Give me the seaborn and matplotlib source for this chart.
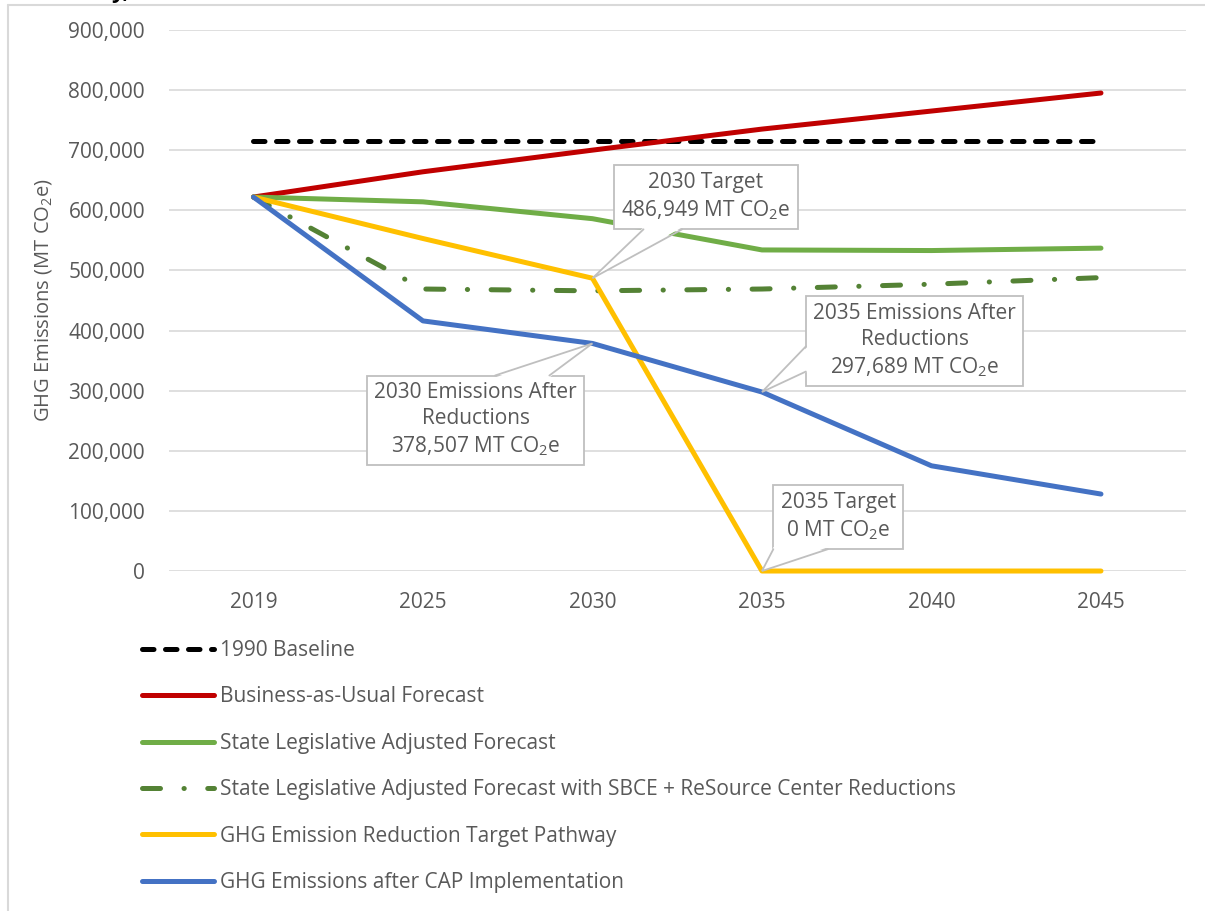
import matplotlib
matplotlib.use("Agg")
import matplotlib.pyplot as plt
import seaborn as sns
import pandas as pd
from matplotlib.lines import Line2D
from matplotlib.patches import Polygon
from matplotlib.transforms import IdentityTransform
from matplotlib.ticker import FuncFormatter

# ---- data ----
years = ["2019", "2025", "2030", "2035", "2040", "2045"]
baseline_1990 = [715000, 715000, 715000, 715000, 715000, 715000]
bau_forecast = [622000, 664000, 700000, 735000, 765000, 795000]
state_adjusted = [622000, 614000, 586000, 534000, 533000, 537000]
state_adjusted_sbce = [622000, 469000, 466000, 469000, 477000, 488000]
target_pathway = [622000, 553000, 486949, 0, 0, 0]
cap_implementation = [622000, 416000, 378507, 297689, 175000, 128000]

series_names = [
    "1990 Baseline",
    "Business-as-Usual Forecast",
    "State Legislative Adjusted Forecast",
    "State Legislative Adjusted Forecast with SBCE + ReSource Center Reductions",
    "GHG Emission Reduction Target Pathway",
    "GHG Emissions after CAP Implementation",
]
series_values = [baseline_1990, bau_forecast, state_adjusted, state_adjusted_sbce,
                 target_pathway, cap_implementation]
colors = ["#000000", "#C00000", "#70AD47", "#548235", "#FFC000", "#4472C4"]

callout_texts = [
    "2030 Target\n486,949 MT CO$_2$e",
    "2030 Emissions After\nReductions\n378,507 MT CO$_2$e",
    "2035 Emissions After\nReductions\n297,689 MT CO$_2$e",
    "2035 Target\n0 MT CO$_2$e",
]

# ---- styling ----
sns.set_theme(style="white")
plt.rcParams["font.family"] = ["Open Sans", "DejaVu Sans"]
plt.rcParams["mathtext.fontset"] = "custom"
plt.rcParams["mathtext.rm"] = "Open Sans"
plt.rcParams["mathtext.it"] = "Open Sans"
txt_color = "#595959"
grid_color = "#D9D9D9"
callout_edge = "#BFBFBF"
fs = 15

fig = plt.figure(figsize=(12.05, 9.11), dpi=100)
ax = fig.add_axes([0.140, 0.3732, 0.844, 0.5940])

lw = 3.6
styles = [
    dict(linestyle=(0, (2.3, 2.3))),
    dict(linestyle="-"),
    dict(linestyle="-"),
    dict(linestyle=(0, (3.6, 4.7, 0.05, 4.7))),
    dict(linestyle="-"),
    dict(linestyle="-"),
]

df_list = []
for name, vals in zip(series_names, series_values):
    df_list.append(pd.DataFrame({"Year": years, "Emissions": vals, "Series": name}))
df = pd.concat(df_list, ignore_index=True)

handles = []
for name, color, st in zip(series_names, colors, styles):
    sub = df[df["Series"] == name]
    sns.lineplot(data=sub, x="Year", y="Emissions", ax=ax, color=color, lw=lw,
                 sort=False, legend=False, zorder=3, **st)
    ln = ax.lines[-1]
    ln.set_dash_capstyle("round")
    ln.set_solid_capstyle("round")
    ln.set_solid_joinstyle("round")
    ln.set_clip_on(False)
    h = Line2D([], [], color=color, lw=lw, dash_capstyle="round",
               solid_capstyle="round", **st)
    handles.append(h)

ax.set_xlim(-0.5, len(years) - 0.5)
ax.set_ylim(0, 900000)
ax.set_yticks(range(0, 900001, 100000))
ax.yaxis.set_major_formatter(FuncFormatter(lambda v, p: f"{int(v):,}"))
ax.grid(axis="y", color=grid_color, lw=1.2)
ax.grid(axis="x", visible=False)
for s in ax.spines.values():
    s.set_visible(False)
ax.tick_params(axis="both", length=0, labelsize=fs, colors=txt_color)
ax.tick_params(axis="y", pad=17)
ax.tick_params(axis="x", pad=15)
ax.set_xlabel("")
ax.set_ylabel("GHG Emissions (MT CO$_2$e)", fontsize=14.5, color=txt_color, labelpad=10)

# ---- callouts ----
box = dict(boxstyle="square,pad=0.35", fc="white", ec=callout_edge, lw=1.3)
callout_targets = [(2, target_pathway[2]), (2, cap_implementation[2]),
                   (3, cap_implementation[3]), (3, target_pathway[3])]
callout_pos = [(2.67, 622000), (1.31, 251000), (3.90, 383000), (3.45, 90000)]
# which box edge the pointer leaves from, and the span along that edge (fractions)
pointer_specs = [("bottom", 0.16, 0.37), ("top", 0.59, 0.84),
                 ("left", 0.56, 0.84), ("bottom", 0.0, 0.42)]
anns = []
for text, xy, pos in zip(callout_texts, callout_targets, callout_pos):
    a = ax.annotate(text, xy=xy, xytext=pos, ha="center", va="center",
                    fontsize=fs, color=txt_color, bbox=box,
                    zorder=5, linespacing=1.3)
    anns.append(a)

# ---- legend ----
leg = fig.legend(handles, series_names, loc="upper left",
                 bbox_to_anchor=(0.1023, 0.318), frameon=False, fontsize=fs,
                 handlelength=3.45, handletextpad=0.3, labelspacing=1.22,
                 labelcolor=txt_color)

# ---- callout pointers (built from the callout boxes and their targets) ----
fig.canvas.draw()
renderer = fig.canvas.get_renderer()
for a, (edge, f0, f1) in zip(anns, pointer_specs):
    bb = a.get_bbox_patch().get_window_extent(renderer)
    apex = ax.transData.transform(a.xy)
    ins = 2.0
    if edge == "bottom":
        p0 = (bb.x0 + f0 * bb.width, bb.y0); p1 = (bb.x0 + f1 * bb.width, bb.y0)
        q0 = (p0[0], p0[1] + ins); q1 = (p1[0], p1[1] + ins)
    elif edge == "top":
        p0 = (bb.x0 + f0 * bb.width, bb.y1); p1 = (bb.x0 + f1 * bb.width, bb.y1)
        q0 = (p0[0], p0[1] - ins); q1 = (p1[0], p1[1] - ins)
    else:  # left, fractions measured from the top
        p0 = (bb.x0, bb.y1 - f0 * bb.height); p1 = (bb.x0, bb.y1 - f1 * bb.height)
        q0 = (p0[0] + ins, p0[1]); q1 = (p1[0] + ins, p1[1])
    fig.add_artist(Polygon([q0, tuple(apex), q1], closed=True, fc="white", ec="none",
                           transform=IdentityTransform(), zorder=6))
    fig.add_artist(Line2D([p0[0], apex[0], p1[0]], [p0[1], apex[1], p1[1]],
                          color=callout_edge, lw=1.3, transform=IdentityTransform(),
                          zorder=7, solid_joinstyle="miter"))

# ---- chart border and clipped title fragment ----
fig.add_artist(Line2D([8 / 1205, 8 / 1205], [0, 1 - 5 / 911], transform=fig.transFigure,
                      color="#D9D9D9", lw=1.5))
fig.add_artist(Line2D([8 / 1205, 1], [1 - 5 / 911, 1 - 5 / 911], transform=fig.transFigure,
                      color="#D9D9D9", lw=1.5))
fig.text(0.092, 1.008, "y,", fontsize=16, fontweight="bold", color="black",
         ha="left", va="center")

fig.savefig("out.png", dpi=100, facecolor="white")
